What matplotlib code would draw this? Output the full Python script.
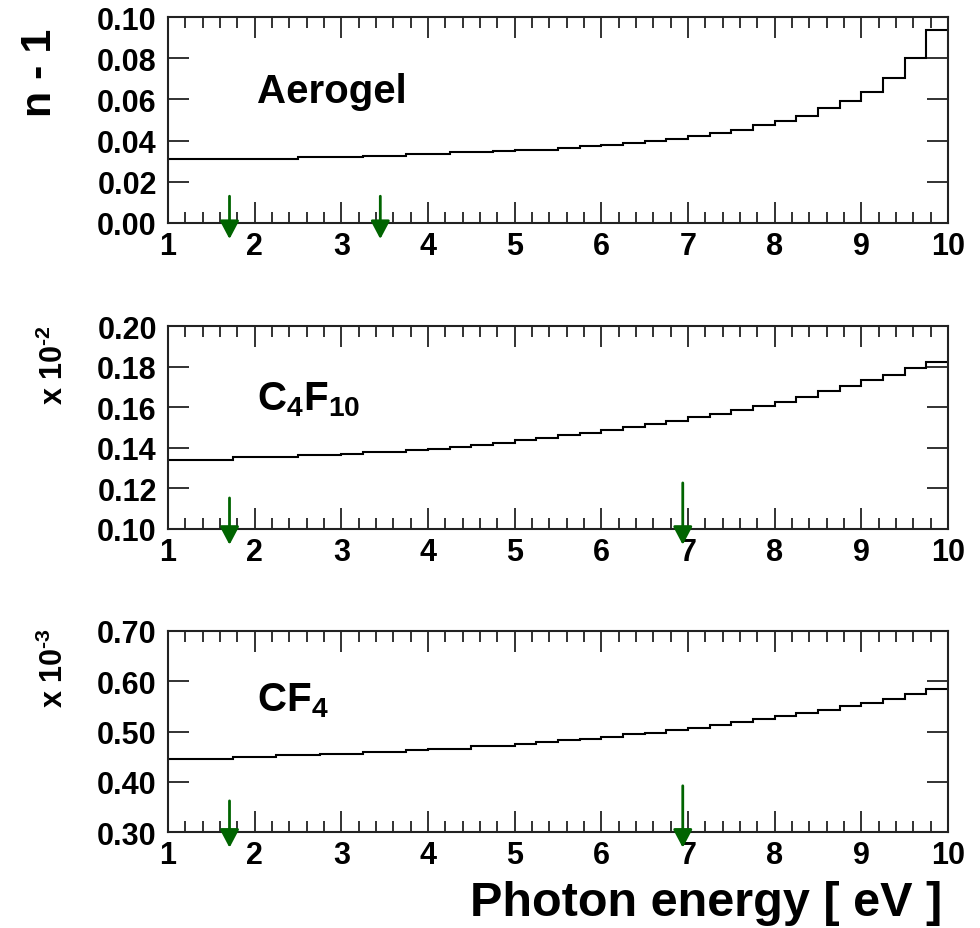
import numpy as np
import matplotlib.pyplot as plt
from matplotlib.ticker import MultipleLocator, FormatStrFormatter

plt.rcParams['font.family'] = ['Liberation Sans', 'DejaVu Sans']
plt.rcParams['font.weight'] = 'bold'
plt.rcParams['mathtext.fontset'] = 'custom'
plt.rcParams['mathtext.rm'] = 'Liberation Sans:bold'
plt.rcParams['mathtext.bf'] = 'Liberation Sans:bold'
plt.rcParams['mathtext.it'] = 'Liberation Sans:bold'

# photon energy bins, 0.25 eV wide from 1 to 10 eV
edges = np.linspace(1, 10, 37)

# n - 1 per bin (aerogel plain, C4F10 in units of 1e-2, CF4 in units of 1e-3)
aerogel = [0.0310, 0.0310, 0.0310, 0.0310, 0.0310, 0.0310,
           0.0318, 0.0318, 0.0318, 0.0326, 0.0326, 0.0334,
           0.0334, 0.0343, 0.0343, 0.0349, 0.0356, 0.0356,
           0.0366, 0.0374, 0.0380, 0.0387, 0.0400, 0.0408,
           0.0423, 0.0438, 0.0452, 0.0474, 0.0495, 0.0521,
           0.0559, 0.0593, 0.0638, 0.0705, 0.0803, 0.0938]
c4f10 = [0.1341, 0.1341, 0.1341, 0.1353, 0.1353, 0.1353,
         0.1363, 0.1363, 0.1371, 0.1379, 0.1379, 0.1387,
         0.1396, 0.1406, 0.1416, 0.1426, 0.1437, 0.1450,
         0.1462, 0.1474, 0.1488, 0.1503, 0.1518, 0.1534,
         0.1550, 0.1567, 0.1585, 0.1605, 0.1628, 0.1652,
         0.1680, 0.1704, 0.1733, 0.1760, 0.1794, 0.1824]
cf4 = [0.446, 0.446, 0.446, 0.449, 0.449, 0.4525,
       0.4525, 0.456, 0.456, 0.459, 0.459, 0.4625,
       0.466, 0.466, 0.471, 0.471, 0.476, 0.4795,
       0.483, 0.486, 0.490, 0.4945, 0.498, 0.5025,
       0.507, 0.5125, 0.518, 0.524, 0.530, 0.536,
       0.542, 0.551, 0.557, 0.565, 0.575, 0.5845]

names = ['Aerogel', r'C$_4$F$_{10}$', r'CF$_4$']
series = [aerogel, c4f10, cf4]
ylims = [(0.0, 0.10), (0.10, 0.20), (0.30, 0.70)]
ysteps = [0.02, 0.02, 0.10]
scale_labels = ['n - 1', r'x 10$^{\text{-}2}$', r'x 10$^{\text{-}3}$']

# threshold arrows: energy and start height (axes fraction)
arrow_x = [[1.71, 3.45], [1.71, 6.94], [1.71, 6.94]]
arrow_top = [[0.13, 0.13], [0.153, 0.227], [0.155, 0.23]]

green = '#006400'

fig = plt.figure(figsize=(9.8, 9.29), dpi=100)
bottoms = [0.7589, 0.4295, 0.1033]
heights = [0.2217, 0.2185, 0.2164]

for i in range(3):
    ax = fig.add_axes([0.1714, bottoms[i], 0.7959, heights[i]])
    ax.stairs(series[i], edges, color='black', lw=1.5, baseline=None)
    ax.set_xlim(1, 10)
    ax.set_ylim(*ylims[i])
    ax.xaxis.set_major_locator(MultipleLocator(1))
    ax.xaxis.set_minor_locator(MultipleLocator(0.2))
    ax.yaxis.set_major_locator(MultipleLocator(ysteps[i]))
    ax.yaxis.set_major_formatter(FormatStrFormatter('%.2f'))
    ax.tick_params(axis='both', which='both', direction='in', top=True, right=True,
                   width=1.3, colors='#222222', labelcolor='black', labelsize=22)
    ax.tick_params(axis='both', which='major', length=15)
    ax.tick_params(axis='x', which='minor', length=8)
    ax.tick_params(axis='x', pad=6)
    ax.tick_params(axis='y', pad=8)
    for sp in ax.spines.values():
        sp.set_linewidth(1.5)
        sp.set_color('#222222')
    for lab in ax.get_xticklabels() + ax.get_yticklabels():
        lab.set_fontweight('bold')

    ax.text(0.114, [0.587, 0.59, 0.605][i], names[i], transform=ax.transAxes,
            fontsize=29, fontweight='bold', va='baseline', ha='left')

    for x, top in zip(arrow_x[i], arrow_top[i]):
        ax.annotate('', xy=(x, -0.078), xycoords=('data', 'axes fraction'),
                    xytext=(x, top), textcoords=('data', 'axes fraction'),
                    arrowprops=dict(arrowstyle='-|>,head_length=1.1,head_width=0.58',
                                    mutation_scale=10, color=green, lw=2,
                                    shrinkA=0, shrinkB=0),
                    annotation_clip=False)

    if i == 2:
        ax.set_xlabel('Photon energy [ eV ]', fontsize=35, fontweight='bold', ha='right')
        ax.xaxis.set_label_coords(0.993, -0.24)

fig.text(0.041, 1 - 73 / 929, scale_labels[0], rotation=90, fontsize=31,
         fontweight='bold', ha='center', va='center')
fig.text(0.055, 1 - 365 / 929, scale_labels[1], rotation=90, fontsize=22,
         fontweight='bold', ha='center', va='center')
fig.text(0.055, 1 - 668 / 929, scale_labels[2], rotation=90, fontsize=22,
         fontweight='bold', ha='center', va='center')

fig.savefig('out.png', dpi=100, facecolor='white')
